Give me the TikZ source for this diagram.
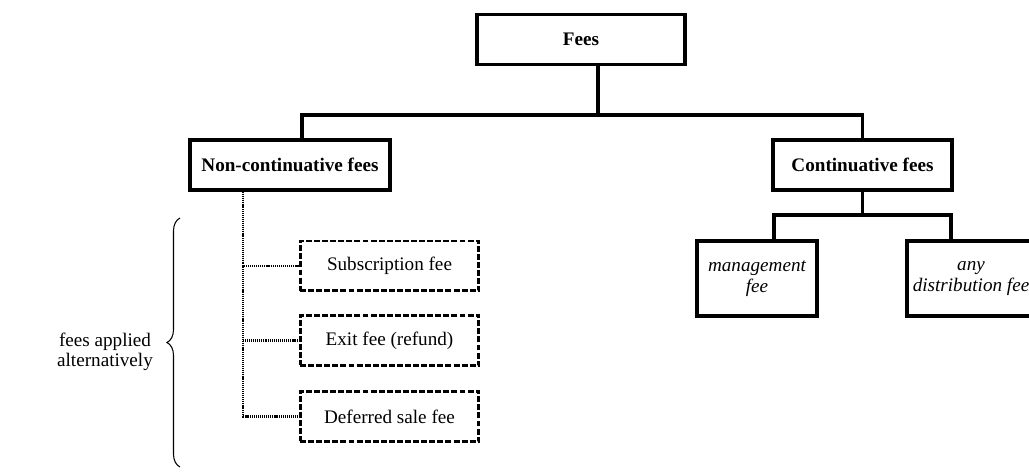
\documentclass[tikz,border=0pt]{standalone}
\usepackage{fontspec}
\setmainfont{Liberation Serif}
\usepackage{tikz}
\usetikzlibrary{
  arrows.meta,
  positioning,
  calc,
  decorations.pathreplacing
}
\tikzset{
  feebox/.style={
    rectangle,draw=black,fill=white,line width=1.8pt,
    minimum width=#1,minimum height=1cm,
    align=center,inner sep=2pt
  },
  altbox/.style={
    rectangle,draw=black,fill=white,line width=1.7pt,
    dash pattern=on 3.4pt off 1.2pt,
    minimum width=3.58cm,minimum height=1cm,
    align=center
  },
  conn/.style={-,line width=1.8pt,color=black},
  dotconn/.style={-,line width=1.6pt,color=black,dash pattern=on 0.6pt off 0.5pt},
  bracearr/.style={decorate,decoration={brace,amplitude=0.26cm},line width=0.6pt}
}

\begin{document}
\begin{tikzpicture}[
  x=0.02cm,y=-0.02cm,
  every node/.style={font=\fontsize{10.9}{11.6}\selectfont},
  headfont/.style={font=\fontsize{10.9}{11.6}\selectfont\bfseries},
  itfont/.style={font=\fontsize{10.9}{11.6}\selectfont\itshape}
]
\useasboundingbox (0,0) rectangle (1029,476);

%% ── Top level ────────────────────────────────────────────
\node[feebox=4.16cm,headfont] (fees) at (581,39.5) {Fees};

%% ── Second level ─────────────────────────────────────────
\node[feebox=4cm,headfont] (noncont) at (290,165) {Non-continuative fees};
\node[feebox=3.58cm,headfont] (cont) at (862.5,165) {Continuative fees};

%% ── Continuative fees ────────────────────────────────────
\node[feebox=2.4cm,minimum height=1.5cm,itfont] (mgmt) at (757,278.5)
  {management\\fee};
\node[feebox=2.56cm,minimum height=1.5cm,itfont] (distr) at (971,278.5)
  {any\\distribution fee};

%% ── Non-continuative fees ────────────────────────────────
\node[altbox] (subfee) at (389.5,266) {Subscription fee};
\node[altbox] (exitfee) at (389.5,340.5) {Exit fee (refund)};
\node[altbox] (deffee) at (389.5,416.5) {Deferred sale fee};

%% ── Links ────────────────────────────────────────────────
\coordinate (fj) at (598,115);
\coordinate (cj) at (862.5,215);
\coordinate (trunk) at (243,190);
\draw[conn] (fees.south -| fj) -- (fj) -| ([xshift=0.24cm]noncont.north);
\draw[conn] (fj) -| (cont.north);
\draw[conn] (cont.south) -- (cj) -| ([xshift=0.34cm]mgmt.north);
\draw[conn] (cj) -| ([xshift=-0.4cm]distr.north);
\draw[dotconn] (trunk) |- (subfee.west);
\draw[dotconn] (trunk) |- (exitfee.west);
\draw[dotconn] (trunk) |- (deffee.west);

%% ── Brace ────────────────────────────────────────────────
\coordinate (brbot) at (180,467);
\coordinate (brtop) at (180,218);
\draw[bracearr] (brbot) -- (brtop);
\node[align=center] (note) at (105,352) {fees applied\\alternatively};

\end{tikzpicture}
\end{document}
